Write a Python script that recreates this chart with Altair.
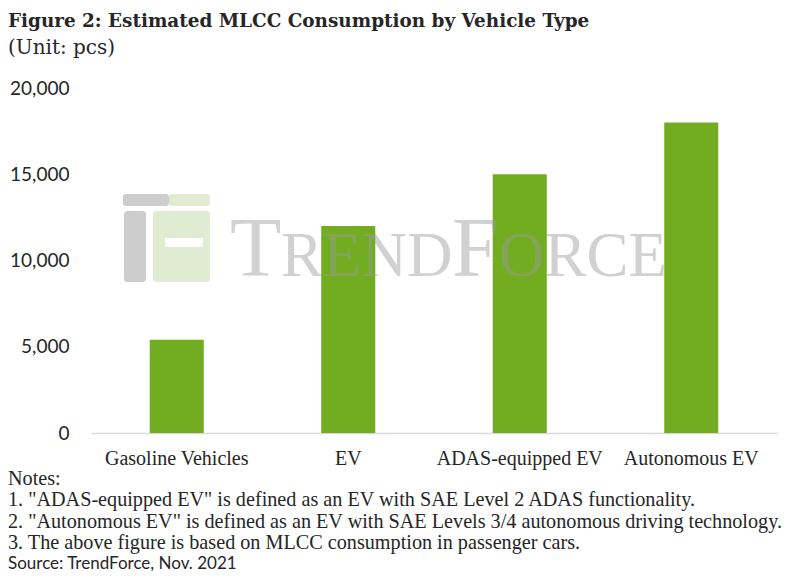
import altair as alt
import pandas as pd

categories = ["Gasoline Vehicles", "EV", "ADAS-equipped EV", "Autonomous EV"]
values = [5400, 12000, 15000, 18000]
y_ticks = [0, 5000, 10000, 15000, 20000]

title_text = "Figure 2: Estimated MLCC Consumption by Vehicle Type"
subtitle_text = "(Unit: pcs)"
notes_lines = [
    "Notes:",
    "1. \"ADAS-equipped EV\" is defined as an EV with SAE Level 2 ADAS functionality.",
    "2. \"Autonomous EV\" is defined as an EV with SAE Levels 3/4 autonomous driving technology.",
    "3. The above figure is based on MLCC consumption in passenger cars.",
]
source_text = "Source: TrendForce, Nov. 2021"

W, H = 686, 345
SANS = "Lato"
SERIF = "Liberation Serif"
TEXT_COLOR = "#262626"

df = pd.DataFrame({"cat": categories, "val": values})
one = pd.DataFrame({"k": [0]})

bars = alt.Chart(df).mark_bar(color="#72AD21").encode(
    x=alt.X("cat:N", sort=categories, title=None,
            scale=alt.Scale(paddingInner=0.685, paddingOuter=0.3425),
            axis=alt.Axis(labelAngle=0, ticks=False, domainColor="#d9d9d9", domainWidth=1.5,
                          labelFont=SERIF, labelFontSize=20, labelColor=TEXT_COLOR,
                          labelPadding=15)),
    y=alt.Y("val:Q", title=None,
            scale=alt.Scale(domain=[0, 20000], nice=False),
            axis=alt.Axis(values=y_ticks, format=",d", grid=False, domain=False, ticks=False,
                          labelFont=SANS, labelFontSize=19, labelColor=TEXT_COLOR,
                          labelPadding=22)),
)


def rect(x1, x2, y1, y2, color, op=0.85, r=3):
    return alt.Chart(one).mark_rect(color=color, opacity=op, cornerRadius=r).encode(
        x=alt.value(x1), x2=alt.value(x2), y=alt.value(y1), y2=alt.value(y2))


def label(text, x, y, size, font, weight="normal", color=TEXT_COLOR, op=1.0, baseline="alphabetic"):
    return alt.Chart(one).mark_text(
        text=text, font=font, fontSize=size, fontWeight=weight, color=color, opacity=op,
        align="left", baseline=baseline
    ).encode(x=alt.value(x), y=alt.value(y))


# watermark logo (decorative)
logo = [
    rect(32, 78, 106, 118, "#c4c4c4"),
    rect(78, 119, 106, 118, "#d9e9c9"),
    rect(33, 55, 123, 194, "#c4c4c4"),
    rect(62, 119, 123, 194, "#d9e9c9"),
    rect(74, 112, 150, 159, "#ffffff", op=1.0, r=0),
]

# watermark text in small caps
wm = [
    label("T", 139, 188, 84, SERIF, color="#9a9a9a", op=0.45),
    label("REND", 190, 188, 63, SERIF, color="#9a9a9a", op=0.45),
    label("F", 361, 188, 84, SERIF, color="#9a9a9a", op=0.45),
    label("ORCE", 408, 188, 63, SERIF, color="#9a9a9a", op=0.45),
]

title = label(title_text, -83, -61, 18.4, "DejaVu Serif", weight="bold")
subtitle = label(subtitle_text, -83, -34, 20, "DejaVu Serif")

note_y = [H + 46, H + 67, H + 89, H + 110]
notes = [label(t, -83, yy, 20.2, SERIF, baseline="middle") for t, yy in zip(notes_lines, note_y)]
source = label(source_text, -83, H + 131, 17, SANS, baseline="middle")

chart = alt.layer(
    *logo, bars, *wm, title, subtitle, *notes, source
).properties(
    width=W, height=H,
    autosize=alt.AutoSizeParams(type="none"),
    padding={"left": 83, "top": 80, "right": 15, "bottom": 142},
    background="white",
).configure_view(strokeWidth=0)

chart.save("out.html", embed_options={"renderer": "svg", "actions": False})
